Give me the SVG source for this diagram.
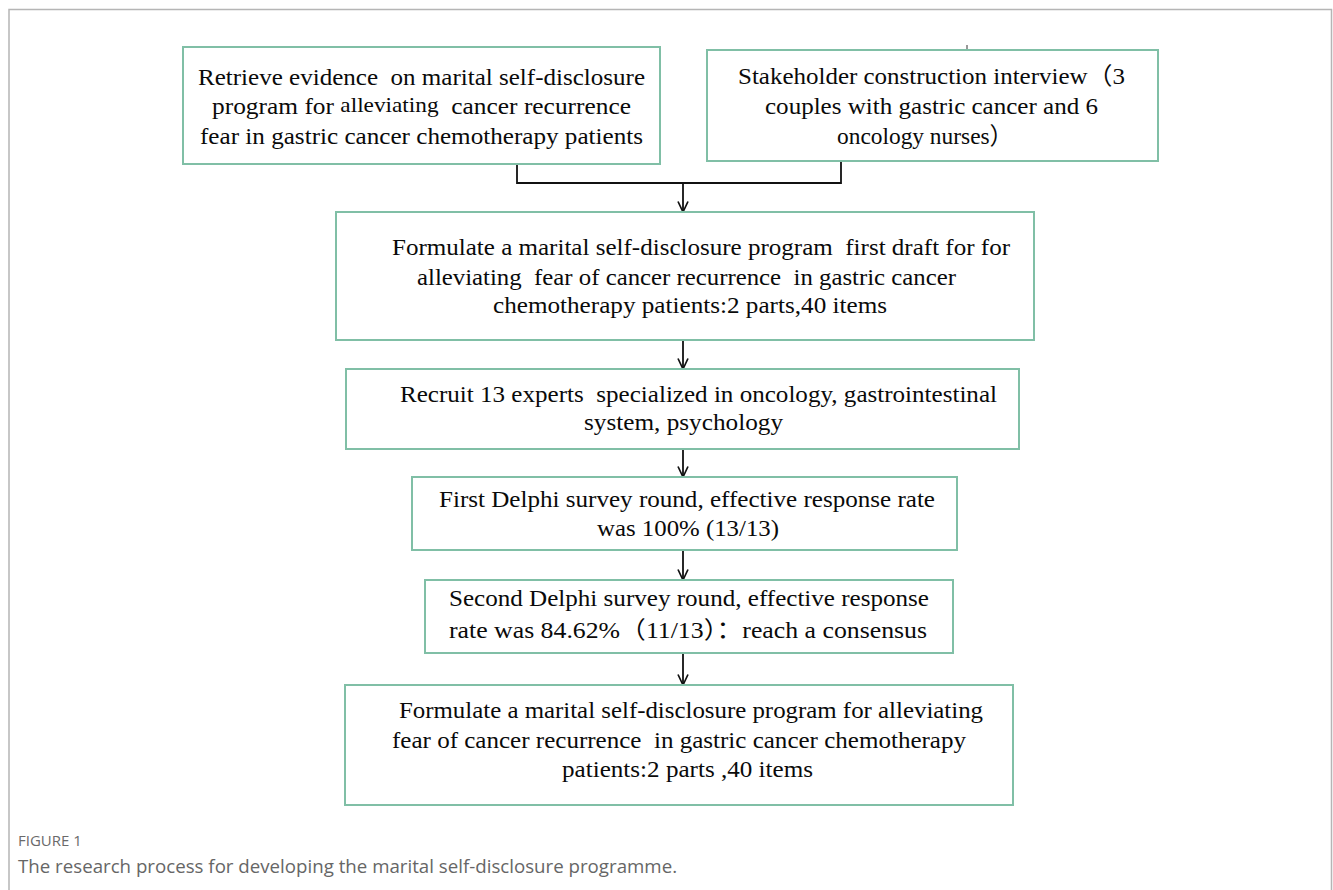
<svg xmlns="http://www.w3.org/2000/svg" width="1333" height="890" viewBox="0 0 1333 890">
<style>
.box{fill:#fff;stroke:#80bfa6;stroke-width:2}
.t{font-family:"Liberation Serif","Times New Roman","Noto Sans CJK SC",serif;font-size:24px;fill:#0a0a0a;white-space:pre}
.c{fill:none;stroke:#111;stroke-width:1.8}
.frame{fill:none;stroke:#b5b5b5;stroke-width:1.5}
.cap1{font-family:"Open Sans","Liberation Sans",sans-serif;font-size:15px;fill:#6a6a6a}
.cap2{font-family:"Open Sans","Liberation Sans",sans-serif;font-size:18.7px;fill:#666}
</style>
<defs>
<marker id="ah" viewBox="0 0 12 12" refX="11.5" refY="6" markerWidth="12" markerHeight="12" markerUnits="userSpaceOnUse" orient="auto">
<path d="M1,1 L11.5,6 L1,11" fill="none" stroke="#111" stroke-width="1.7"/>
</marker>
</defs>
<rect width="1333" height="890" fill="#fff"/>
<path class="frame" d="M9,890 V9.5 H1331.5 V890"/>
<line x1="967" y1="45" x2="967" y2="50" stroke="#333" stroke-width="1"/>

<g id="connectors">
<path class="c" d="M517,164 V183 H841 V161"/>
<path class="c" d="M683,183 V212" marker-end="url(#ah)"/>
<path class="c" d="M683,340 V369" marker-end="url(#ah)"/>
<path class="c" d="M683,449 V477" marker-end="url(#ah)"/>
<path class="c" d="M683,550 V580" marker-end="url(#ah)"/>
<path class="c" d="M683,653 V685" marker-end="url(#ah)"/>
</g>

<g id="n1">
<rect class="box" x="183" y="47" width="477" height="117"/>
<text class="t" x="198" y="85" textLength="447" lengthAdjust="spacingAndGlyphs">Retrieve evidence  on marital self-disclosure</text>
<text class="t" x="212" y="114" textLength="419" lengthAdjust="spacingAndGlyphs">program for <tspan font-size="22" dy="-2">alleviating</tspan><tspan dy="2">  cancer recurrence</tspan></text>
<text class="t" x="200" y="144" textLength="443" lengthAdjust="spacingAndGlyphs">fear in gastric cancer chemotherapy patients</text>
</g>

<g id="n2">
<rect class="box" x="707" y="50" width="451" height="111"/>
<text class="t" x="738" y="84" textLength="387" lengthAdjust="spacingAndGlyphs">Stakeholder construction interview（3</text>
<text class="t" x="765" y="114" textLength="333" lengthAdjust="spacingAndGlyphs">couples with gastric cancer and 6</text>
<text class="t" x="837" y="144" textLength="176" lengthAdjust="spacingAndGlyphs">oncology nurses）</text>
</g>

<g id="n3">
<rect class="box" x="336" y="212" width="698" height="128"/>
<text class="t" x="392" y="255" textLength="618" lengthAdjust="spacingAndGlyphs">Formulate a marital self-disclosure program  first draft for for</text>
<text class="t" x="417" y="285" textLength="539" lengthAdjust="spacingAndGlyphs">alleviating  fear of cancer recurrence  in gastric cancer</text>
<text class="t" x="493" y="313" textLength="394" lengthAdjust="spacingAndGlyphs">chemotherapy patients:2 parts,40 items</text>
</g>

<g id="n4">
<rect class="box" x="346" y="369" width="673" height="80"/>
<text class="t" x="400" y="402" textLength="597" lengthAdjust="spacingAndGlyphs">Recruit 13 experts  specialized in oncology, gastrointestinal</text>
<text class="t" x="584" y="430" textLength="199" lengthAdjust="spacingAndGlyphs">system, psychology</text>
</g>

<g id="n5">
<rect class="box" x="412" y="477" width="545" height="73"/>
<text class="t" x="439" y="507" textLength="496" lengthAdjust="spacingAndGlyphs">First Delphi survey round, effective response rate</text>
<text class="t" x="597" y="536" textLength="182" lengthAdjust="spacingAndGlyphs">was 100% (13/13)</text>
</g>

<g id="n6">
<rect class="box" x="425" y="580" width="528" height="73"/>
<text class="t" x="449" y="606" textLength="480" lengthAdjust="spacingAndGlyphs">Second Delphi survey round, effective response</text>
<text class="t" x="449" y="638" textLength="478" lengthAdjust="spacingAndGlyphs">rate was 84.62%（11/13）：reach a consensus</text>
</g>

<g id="n7">
<rect class="box" x="345" y="685" width="668" height="120"/>
<text class="t" x="399" y="718" textLength="584" lengthAdjust="spacingAndGlyphs">Formulate a marital self-disclosure program for alleviating</text>
<text class="t" x="392" y="748" textLength="574" lengthAdjust="spacingAndGlyphs">fear of cancer recurrence  in gastric cancer chemotherapy</text>
<text class="t" x="562" y="777" textLength="251" lengthAdjust="spacingAndGlyphs">patients:2 parts ,40 items</text>
</g>

<g id="caption">
<text class="cap1" x="18" y="846">FIGURE 1</text>
<text class="cap2" x="18" y="873">The research process for developing the marital self-disclosure programme.</text>
</g>
</svg>
